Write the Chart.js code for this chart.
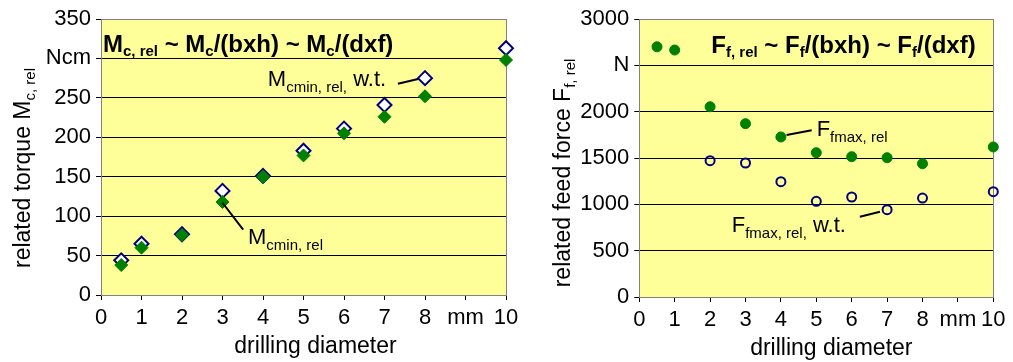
<!DOCTYPE html>
<html>
<head>
<meta charset="utf-8">
<title>Related torque and feed force vs drilling diameter</title>
<script src="https://cdn.jsdelivr.net/npm/chart.js@4"></script>
<style>
  body { margin: 0; background: #fff; }
  .wrap { position: relative; width: 1013px; height: 362px; overflow: hidden; }
  #torqueBox { position: absolute; left: 0; top: 0; }
  #forceBox { position: absolute; left: 540px; top: 0; }
</style>
</head>
<body>
<div class="wrap">
  <div id="torqueBox"><canvas id="torqueChart" width="540" height="362"></canvas></div>
  <div id="forceBox"><canvas id="forceChart" width="473" height="362"></canvas></div>
</div>
<script>
// drilling diameter, mm
const torqueDiameters = [0.5, 1, 2, 3, 4, 5, 6, 7, 8, 10];
// related torque, Ncm
const torqueRel   = [38, 60, 76, 118, 150, 177, 205, 226, 252, 298];   // Mcmin, rel
const torqueRelWT = [44, 65, 77, 132, 151, 183, 211, 241, 275, 313];   // Mcmin, rel, w.t.

const forceDiameters   = [0.5, 1, 2, 3, 4, 5, 6, 7, 8, 10];
const forceDiametersWT = [2, 3, 4, 5, 6, 7, 8, 10];
// related feed force, N
const forceRel   = [2700, 2665, 2053, 1870, 1727, 1557, 1514, 1503, 1438, 1619]; // Ffmax, rel
const forceRelWT = [1471, 1446, 1244, 1032, 1079, 942, 1068, 1136];             // Ffmax, rel, w.t.

// axis ticks (9 mm is shown as the unit label)
const xTickValues = [0, 1, 2, 3, 4, 5, 6, 7, 8, 9, 10];
const xTickLabels = ['0', '1', '2', '3', '4', '5', '6', '7', '8', 'mm', '10'];
const torqueTickValues = [0, 50, 100, 150, 200, 250, 300, 350];
const torqueTickLabels = ['0', '50', '100', '150', '200', '250', 'Ncm', '350'];
const forceTickValues = [0, 500, 1000, 1500, 2000, 2500, 3000];
const forceTickLabels = ['0', '500', '1000', '1500', '2000', 'N', '3000'];

const GREEN = '#008000';
const NAVY = '#000080';
const PLOT_BG = '#ffff99';
const FRAME = '#808080';
const FONT = '"Liberation Sans", Arial, sans-serif';

const titleStyle = { main: 'bold 24px ' + FONT, sub: 'bold 15px ' + FONT, shift: 4 };
const noteStyle  = { main: '22px ' + FONT, sub: '15px ' + FONT, shift: 6 };
const axisStyle  = { main: '23px ' + FONT, sub: '15px ' + FONT, shift: 5 };

function toPoints(xs, ys) {
    return xs.map((x, i) => ({ x: x, y: ys[i] }));
}

// text made of [string, isSubscript] pieces
function drawRich(ctx, segs, x, y, st, align) {
    let w = 0;
    segs.forEach(s => { ctx.font = s[1] ? st.sub : st.main; w += ctx.measureText(s[0]).width; });
    let cx = align === 'center' ? x - w / 2 : x;
    ctx.textAlign = 'left';
    ctx.textBaseline = 'alphabetic';
    ctx.fillStyle = '#000';
    segs.forEach(s => {
        ctx.font = s[1] ? st.sub : st.main;
        ctx.fillText(s[0], cx, y + (s[1] ? st.shift : 0));
        cx += ctx.measureText(s[0]).width;
    });
}

const decorPlugin = {
    id: 'decor',
    beforeDraw(chart) {
        const a = chart.chartArea, ctx = chart.ctx;
        ctx.save();
        ctx.fillStyle = PLOT_BG;
        ctx.fillRect(a.left, a.top, a.right - a.left, a.bottom - a.top);
        ctx.restore();
    },
    beforeDatasetsDraw(chart) {
        const a = chart.chartArea, ctx = chart.ctx;
        ctx.save();
        ctx.strokeStyle = FRAME;
        ctx.lineWidth = 1;
        ctx.strokeRect(Math.round(a.left) + 0.5, Math.round(a.top) + 0.5,
                       Math.round(a.right - a.left), Math.round(a.bottom - a.top));
        ctx.restore();
    },
    afterDatasetsDraw(chart, args, o) {
        const a = chart.chartArea, ctx = chart.ctx;
        const xs = chart.scales.x, ys = chart.scales.y;
        ctx.save();
        // chart heading inside the plot
        drawRich(ctx, o.title, a.left + o.titleDx, a.top + o.titleDy, titleStyle, 'left');
        // y axis title, rotated
        ctx.save();
        ctx.translate(o.yTitleX, o.yTitleY);
        ctx.rotate(-Math.PI / 2);
        drawRich(ctx, o.yTitle, 0, 0, axisStyle, 'center');
        ctx.restore();
        // x axis title
        drawRich(ctx, [['drilling diameter', 0]], (a.left + a.right) / 2 + o.xTitleDx, o.xTitleY, axisStyle, 'center');
        // labels with leader lines
        o.notes.forEach(n => {
            ctx.strokeStyle = '#000';
            ctx.lineWidth = 2;
            ctx.beginPath();
            ctx.moveTo(xs.getPixelForValue(n.line[0][0]), ys.getPixelForValue(n.line[0][1]));
            ctx.lineTo(xs.getPixelForValue(n.line[1][0]), ys.getPixelForValue(n.line[1][1]));
            ctx.stroke();
            drawRich(ctx, n.text, xs.getPixelForValue(n.at[0]), ys.getPixelForValue(n.at[1]), noteStyle, 'left');
        });
        ctx.restore();
    }
};

function makeOptions(cfg) {
    return {
        responsive: false,
        animation: false,
        devicePixelRatio: 1,
        layout: { padding: { left: 0, top: 19, right: cfg.padRight, bottom: 0 } },
        plugins: {
            legend: { display: false },
            tooltip: { enabled: false },
            decor: cfg.decor
        },
        scales: {
            x: {
                type: 'linear',
                min: 0,
                max: 10,
                afterBuildTicks: s => { s.ticks = xTickValues.map(v => ({ value: v })); },
                afterFit: s => { s.height = cfg.xHeight; },
                ticks: {
                    callback: (v, i) => xTickLabels[i],
                    font: { family: FONT, size: 22 },
                    color: '#000',
                    padding: 5,
                    maxRotation: 0,
                    autoSkip: false
                },
                grid: { drawOnChartArea: false, tickLength: 5, tickColor: '#000' },
                border: { color: FRAME }
            },
            y: {
                type: 'linear',
                min: 0,
                max: cfg.yMax,
                afterBuildTicks: s => { s.ticks = cfg.yTickValues.map(v => ({ value: v })); },
                afterFit: s => { s.width = cfg.yWidth; },
                ticks: {
                    callback: (v, i) => cfg.yTickLabels[i],
                    font: { family: FONT, size: 22 },
                    color: '#000',
                    padding: 5,
                    autoSkip: false
                },
                grid: { color: '#000', lineWidth: 1, tickLength: 5, tickColor: '#000' },
                border: { color: FRAME }
            }
        }
    };
}

new Chart(document.getElementById('torqueChart'), {
    type: 'scatter',
    data: {
        datasets: [
            {
                label: 'Mcmin, rel',
                data: toPoints(torqueDiameters, torqueRel),
                pointStyle: 'rectRot',
                pointRadius: 6.5,
                backgroundColor: GREEN,
                borderColor: GREEN,
                borderWidth: 1,
                clip: false,
                order: 0
            },
            {
                label: 'Mcmin, rel, w.t.',
                data: toPoints(torqueDiameters, torqueRelWT),
                pointStyle: 'rectRot',
                pointRadius: 7,
                backgroundColor: '#ffffff',
                borderColor: NAVY,
                borderWidth: 2,
                clip: false,
                order: 1
            }
        ]
    },
    options: makeOptions({
        padRight: 34,
        xHeight: 67,
        yWidth: 101,
        yMax: 350,
        yTickValues: torqueTickValues,
        yTickLabels: torqueTickLabels,
        decor: {
            title: [['M', 0], ['c, rel', 1], [' ~ M', 0], ['c', 1], ['/(bxh) ~ M', 0], ['c', 1], ['/(dxf)', 0]],
            titleDx: 2, titleDy: 33,
            yTitle: [['related torque M', 0], ['c, rel', 1]],
            yTitleX: 30, yTitleY: 168,
            xTitleDx: 12, xTitleY: 353,
            notes: [
                { text: [['M', 0], ['cmin, rel,', 1], [' w.t.', 0]], at: [4.12, 265], line: [[7.33, 268], [7.83, 274]] },
                { text: [['M', 0], ['cmin, rel', 1]], at: [3.63, 65], line: [[3.0, 117], [3.51, 83]] }
            ]
        }
    }),
    plugins: [decorPlugin]
});

new Chart(document.getElementById('forceChart'), {
    type: 'scatter',
    data: {
        datasets: [
            {
                label: 'Ffmax, rel',
                data: toPoints(forceDiameters, forceRel),
                pointStyle: 'circle',
                pointRadius: 5,
                backgroundColor: GREEN,
                borderColor: GREEN,
                borderWidth: 1,
                clip: false,
                order: 0
            },
            {
                label: 'Ffmax, rel, w.t.',
                data: toPoints(forceDiametersWT, forceRelWT),
                pointStyle: 'circle',
                pointRadius: 4.5,
                backgroundColor: 'rgba(0,0,0,0)',
                borderColor: NAVY,
                borderWidth: 2,
                clip: false,
                order: 1
            }
        ]
    },
    options: makeOptions({
        padRight: 19.7,
        xHeight: 65,
        yWidth: 99.3,
        yMax: 3000,
        yTickValues: forceTickValues,
        yTickLabels: forceTickLabels,
        decor: {
            title: [['F', 0], ['f, rel', 1], [' ~ F', 0], ['f', 1], ['/(bxh) ~ F', 0], ['f', 1], ['/(dxf)', 0]],
            titleDx: 72, titleDy: 34,
            yTitle: [['related feed force F', 0], ['f, rel', 1]],
            yTitleX: 30, yTitleY: 173,
            xTitleDx: 15, xTitleY: 355,
            notes: [
                { text: [['F', 0], ['fmax, rel', 1]], at: [5.01, 1737], line: [[4.16, 1748], [4.87, 1799]] },
                { text: [['F', 0], ['fmax, rel,', 1], [' w.t.', 0]], at: [2.61, 705], line: [[6.23, 866], [6.80, 920]] }
            ]
        }
    }),
    plugins: [decorPlugin]
});
</script>
</body>
</html>
